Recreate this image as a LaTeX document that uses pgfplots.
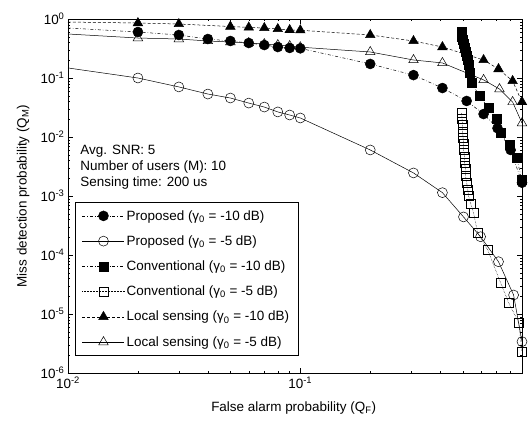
\documentclass[border=0pt]{standalone}
\usepackage{fontspec}
\setmainfont{Liberation Sans}
\usepackage{pgfplots}
\pgfplotsset{compat=1.18}
\begin{document}
\begin{tikzpicture}
\begin{loglogaxis}[
  scale only axis, width=454bp, height=354bp,
  xmin=0.01, xmax=0.9, ymin=1e-6, ymax=1,
  tick align=inside, major tick length=5bp, minor tick length=2.5bp,
  axis line style={line width=0.6pt},
  every tick/.style={black, line width=0.4pt},
  font=\fontsize{13.5}{16}\selectfont,
  tick label style={font=\fontsize{13.5}{16}\selectfont},
  log number format basis/.code 2 args={#1\textsuperscript{\pgfmathprintnumber[assume math mode=true]{#2}}},
  xlabel={False alarm probability (Q\textsubscript{F})},
  ylabel={Miss detection probability (Q\textsubscript{M})},
  xlabel style={at={(axis description cs:0.497,-0.099)}, anchor=center},
  ylabel style={at={(axis description cs:-0.099,0.5)}, anchor=center},
  legend cell align=left,
  legend image code/.code={\draw[#1, mark repeat=2, mark phase=2] plot coordinates {(0bp,0bp) (21bp,0bp) (42bp,0bp)};},
  legend style={at={(axis description cs:0.0154,0.483)}, anchor=north west,
    draw=black, line width=0.5pt, fill=white,
    font=\fontsize{13.5}{16}\selectfont,
    row sep=10bp, inner xsep=7bp, inner ysep=6bp,
    nodes={inner sep=2bp}},
]
% Proposed -10 dB
\addplot[black, line width=0.5pt, dash dot, mark=*, mark size=5bp, mark options={solid}, mark phase=2, mark repeat=1] coordinates {
(0.01,0.704) (0.02,0.602) (0.03,0.536) (0.04,0.458) (0.05,0.424) (0.06,0.392)
(0.07,0.362) (0.08,0.335) (0.09,0.323) (0.10,0.318) (0.20,0.173) (0.307,0.112)
(0.409,0.0676) (0.52,0.0408) (0.615,0.0245) (0.706,0.0141) (0.804,0.00603) (0.9,0.00168)
};
\addlegendentry{Proposed (γ\textsubscript{0} = -10 dB)}
% Proposed -5 dB
\addplot[black, line width=0.5pt, solid, mark=o, mark size=5bp, mark options={solid, fill=white}, mark phase=2, mark repeat=1] coordinates {
(0.01,0.148) (0.02,0.100) (0.03,0.0706) (0.04,0.0535) (0.05,0.0458) (0.06,0.0376)
(0.07,0.0322) (0.08,0.0266) (0.09,0.0236) (0.10,0.0210) (0.20,0.00603) (0.307,0.00246)
(0.409,0.00114) (0.504,0.000442) (0.597,0.000204) (0.713,7.7e-5) (0.828,2.1e-5) (0.9,3.4e-6)
};
\addlegendentry{Proposed (γ\textsubscript{0} = -5 dB)}
% Conventional -10 dB
\addplot[black, line width=0.5pt, dash dot, mark=square*, mark size=4.5bp, mark options={solid}, mark phase=1, mark repeat=1] coordinates {
(0.494,0.602) (0.497,0.51) (0.499,0.44) (0.504,0.38) (0.509,0.33) (0.514,0.28)
(0.520,0.236) (0.525,0.20) (0.530,0.166) (0.538,0.125) (0.546,0.0824) (0.591,0.0496)
(0.646,0.031) (0.700,0.0202) (0.728,0.0116) (0.796,0.00736) (0.853,0.00442) (0.9,0.00187)
};
\addlegendentry{Conventional (γ\textsubscript{0} = -10 dB)}
% Conventional -5 dB
\addplot[black, line width=0.5pt, densely dotted, mark=square, mark size=4.5bp, mark options={solid, fill=white}, mark phase=1, mark repeat=1] coordinates {
(0.494,0.0254) (0.497,0.020) (0.499,0.016) (0.499,0.0125) (0.502,0.0098) (0.504,0.0077)
(0.504,0.006) (0.509,0.0047) (0.509,0.0037) (0.514,0.0029) (0.514,0.0022) (0.520,0.0017)
(0.525,0.0013) (0.530,0.001) (0.541,0.00075) (0.557,0.000515) (0.580,0.000238) (0.640,0.000123)
(0.728,3.4e-5) (0.788,1.56e-5) (0.871,7.2e-6) (0.9,2.3e-6)
};
\addlegendentry{Conventional (γ\textsubscript{0} = -5 dB)}
% Local -10 dB
\addplot[black, line width=0.5pt, densely dashed, mark=triangle*, mark size=5.5bp, mark options={solid}, mark phase=2, mark repeat=1] coordinates {
(0.01,0.889) (0.02,0.855) (0.03,0.823) (0.05,0.745) (0.06,0.72) (0.07,0.704)
(0.08,0.677) (0.09,0.651) (0.10,0.645) (0.20,0.536) (0.307,0.424) (0.409,0.335)
(0.615,0.202) (0.713,0.142) (0.82,0.0892) (0.9,0.0392)
};
\addlegendentry{Local sensing (γ\textsubscript{0} = -10 dB)}
% Local -5 dB
\addplot[black, line width=0.5pt, solid, mark=triangle, mark size=5.5bp, mark options={solid, fill=white}, mark phase=2, mark repeat=1] coordinates {
(0.01,0.557) (0.02,0.476) (0.03,0.458) (0.04,0.424) (0.05,0.407) (0.06,0.392)
(0.07,0.377) (0.08,0.362) (0.09,0.349) (0.10,0.333) (0.20,0.276) (0.307,0.202)
(0.409,0.18) (0.615,0.0928) (0.72,0.065) (0.82,0.0392) (0.9,0.0172)
};
\addlegendentry{Local sensing (γ\textsubscript{0} = -5 dB)}
\node[anchor=north west, align=left, inner sep=0pt, font=\fontsize{13.5}{16}\selectfont] at (axis description cs:0.027,0.643) {\fontsize{13.5}{16}\selectfont Avg. SNR: 5\\\fontsize{13.5}{16}\selectfont Number of users (M): 10\\\fontsize{13.5}{16}\selectfont Sensing time: 200 us};
\end{loglogaxis}
\pgfresetboundingbox
\path[use as bounding box] ([shift={(-68bp,-48bp)}]current axis.south west) rectangle ([shift={(9bp,19bp)}]current axis.north east);
\end{tikzpicture}
\end{document}
